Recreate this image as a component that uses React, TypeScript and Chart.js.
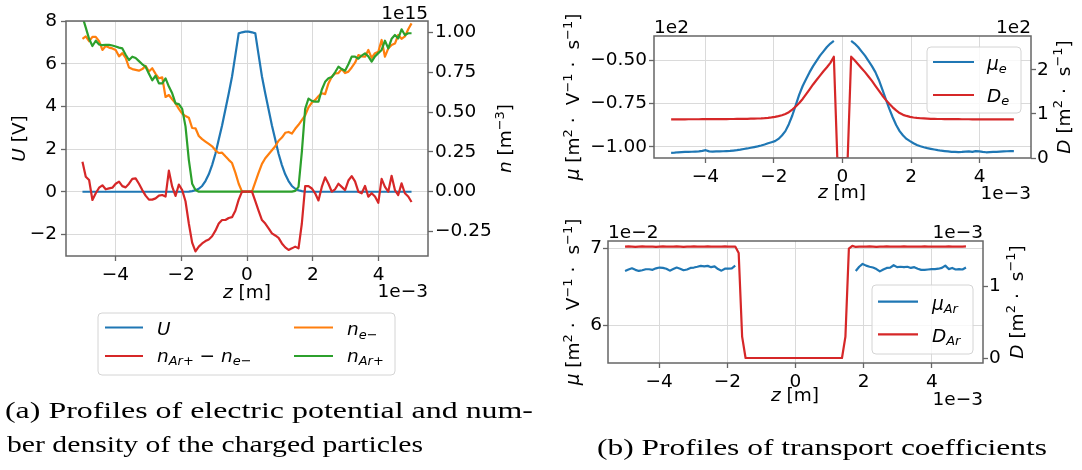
import React, { useEffect, useRef } from 'react';
import { Chart, registerables } from 'chart.js';
Chart.register(...registerables);

const FONT = 'DejaVu Sans';
const TS = 18.5;
const BLUE = '#1f77b4';
const ORANGE = '#ff7f0e';
const GREEN = '#2ca02c';
const RED = '#d62728';
const GRID = '#dadada';
const SPINE = '#666666';

// simulation mesh positions, in units of 1e-3 m
const Z_MM = Array.from({ length: 100 }, (_, i) => -5 + (i * 10) / 99);

// (a) electric potential U [V]
const U_V = [
  0, 0, 0, 0, 0, 0, 0, 0, 0, 0,
  0, 0, 0, 0, 0, 0, 0, 0, 0, 0,
  0, 0, 0, 0, 0, 0, 0, 0, 0, 0,
  0, 0, 0.01, 0.03, 0.07, 0.14, 0.27, 0.5, 0.82, 1.25,
  1.78, 2.45, 3.1, 3.85, 4.6, 5.4, 6.4, 7.42, 7.47, 7.5,
  7.5, 7.47, 7.42, 6.4, 5.4, 4.6, 3.85, 3.1, 2.45, 1.78,
  1.25, 0.82, 0.5, 0.27, 0.14, 0.07, 0.03, 0.01, 0, 0,
  0, 0, 0, 0, 0, 0, 0, 0, 0, 0,
  0, 0, 0, 0, 0, 0, 0, 0, 0, 0,
  0, 0, 0, 0, 0, 0, 0, 0, 0, 0,
];
// number densities, units of 1e15 m^-3
const N_E = [
  0.96, 0.975, 0.945, 0.972, 0.972, 0.945, 0.89, 0.915, 0.905, 0.9,
  0.89, 0.85, 0.87, 0.84, 0.78, 0.77, 0.765, 0.76, 0.77, 0.79,
  0.755, 0.775, 0.74, 0.712, 0.718, 0.595, 0.607, 0.58, 0.555, 0.52,
  0.49, 0.475, 0.465, 0.4, 0.398, 0.35, 0.33, 0.315, 0.3, 0.285,
  0.26, 0.243, 0.245, 0.222, 0.2, 0.18, 0.12, 0.05, 0, 0,
  0, 0, 0.06, 0.12, 0.175, 0.21, 0.235, 0.26, 0.285, 0.32,
  0.34, 0.37, 0.375, 0.365, 0.395, 0.42, 0.45, 0.48, 0.53, 0.56,
  0.576, 0.6, 0.618, 0.613, 0.68, 0.722, 0.743, 0.745, 0.77, 0.745,
  0.754, 0.78, 0.81, 0.858, 0.85, 0.848, 0.89, 0.84, 0.87, 0.879,
  0.953, 0.848, 0.9, 0.921, 0.93, 0.984, 0.96, 0.975, 1.02, 1.057,
];
const N_AR = [
  1.1, 1.03, 0.96, 0.915, 0.948, 0.925, 0.92, 0.922, 0.922, 0.918,
  0.912, 0.905, 0.9, 0.86, 0.827, 0.848, 0.84, 0.82, 0.8, 0.785,
  0.74, 0.7, 0.728, 0.68, 0.68, 0.712, 0.66, 0.618, 0.555, 0.55,
  0.52, 0.41, 0.2, 0.05, 0.01, 0, 0, 0, 0, 0,
  0, 0, 0, 0, 0, 0, 0, 0, 0, 0,
  0, 0, 0, 0, 0, 0, 0, 0, 0, 0,
  0, 0, 0, 0, 0.005, 0.03, 0.25, 0.52, 0.585, 0.57,
  0.565, 0.565, 0.64, 0.69, 0.712, 0.72, 0.75, 0.785, 0.77, 0.76,
  0.8, 0.848, 0.848, 0.835, 0.855, 0.869, 0.85, 0.817, 0.85, 0.87,
  0.89, 0.948, 0.9, 0.96, 0.984, 0.963, 1.02, 0.984, 0.995, 0.995,
];
const N_DIFF = [
  0.188, 0.094, 0.073, -0.052, -0.01, 0.025, 0.04, 0.015, 0.021, 0.025,
  0.05, 0.063, 0.035, 0.027, 0.05, 0.08, 0.084, 0.05, 0.01, -0.025,
  -0.05, -0.05, -0.042, -0.025, -0.021, -0.031, 0.132, 0.031, -0.027, 0.045,
  0.01, -0.06, -0.2, -0.32, -0.375, -0.345, -0.325, -0.31, -0.3, -0.28,
  -0.245, -0.2, -0.178, -0.178, -0.165, -0.16, -0.12, -0.05, 0, 0,
  0, 0, -0.06, -0.12, -0.178, -0.2, -0.23, -0.262, -0.275, -0.29,
  -0.325, -0.35, -0.366, -0.356, -0.345, -0.356, -0.2, 0.035, 0.035, 0.02,
  -0.01, -0.055, 0.03, 0.09, 0.05, 0, 0.015, 0.05, 0.03, 0.01,
  0.07, 0.098, 0.065, 0, -0.01, 0.036, -0.031, -0.01, -0.03, -0.07,
  0.08, 0.03, 0, 0.1, 0.01, -0.021, 0.052, -0.01, -0.03, -0.065,
];

// (b) electron mobility (x1e2) and diffusion (x1e2)
const MU_E = [
  -1.035, -1.034, -1.032, -1.031, -1.03, -1.03, -1.029, -1.028, -1.027, -1.024,
  -1.02, -1.027, -1.028, -1.027, -1.027, -1.026, -1.025, -1.024, -1.022, -1.02,
  -1.017, -1.013, -1.01, -1.006, -1.002, -0.998, -0.993, -0.987, -0.98, -0.974,
  -0.968, -0.955, -0.935, -0.91, -0.87, -0.82, -0.76, -0.7, -0.65, -0.61,
  -0.57, -0.535, -0.505, -0.475, -0.45, -0.425, -0.405, -0.39, null, null,
  null, null, -0.39, -0.405, -0.425, -0.45, -0.475, -0.505, -0.535, -0.57,
  -0.615, -0.67, -0.725, -0.78, -0.83, -0.875, -0.91, -0.935, -0.955, -0.968,
  -0.98, -0.99, -0.997, -1.003, -1.008, -1.012, -1.016, -1.02, -1.023, -1.025,
  -1.027, -1.03, -1.03, -1.031, -1.03, -1.028, -1.027, -1.03, -1.025, -1.027,
  -1.03, -1.032, -1.031, -1.03, -1.03, -1.028, -1.027, -1.026, -1.025, -1.025,
];
const D_E = [
  0.878, 0.878, 0.879, 0.879, 0.879, 0.88, 0.88, 0.88, 0.88, 0.881,
  0.881, 0.881, 0.882, 0.882, 0.883, 0.883, 0.884, 0.885, 0.886, 0.887,
  0.888, 0.889, 0.89, 0.892, 0.894, 0.897, 0.9, 0.905, 0.912, 0.922,
  0.935, 0.95, 0.97, 1.0, 1.04, 1.1, 1.17, 1.25, 1.34, 1.45,
  1.56, 1.67, 1.77, 1.87, 1.97, 2.06, 2.16, 2.3, 0, 0,
  0, 0, 2.3, 2.22, 2.13, 2.04, 1.95, 1.85, 1.75, 1.64,
  1.53, 1.42, 1.32, 1.23, 1.15, 1.08, 1.02, 0.98, 0.955, 0.935,
  0.92, 0.91, 0.903, 0.898, 0.894, 0.89, 0.888, 0.886, 0.885, 0.884,
  0.883, 0.882, 0.882, 0.881, 0.88, 0.88, 0.88, 0.879, 0.879, 0.879,
  0.878, 0.878, 0.878, 0.877, 0.877, 0.877, 0.877, 0.876, 0.876, 0.876,
];
// argon ion mobility (x1e-2) and diffusion (x1e-3)
const MU_AR = [
  6.706, 6.725, 6.741, 6.72, 6.706, 6.715, 6.728, 6.728, 6.72, 6.74,
  6.75, 6.745, 6.735, 6.71, 6.73, 6.75, 6.735, 6.715, 6.725, 6.745,
  6.75, 6.76, 6.772, 6.765, 6.772, 6.755, 6.766, 6.73, 6.71, 6.735,
  6.735, 6.74, 6.775, null, null, null, null, null, null, null,
  null, null, null, null, null, null, null, null, null, null,
  null, null, null, null, null, null, null, null, null, null,
  null, null, null, null, null, null, null, 6.706, 6.76, 6.797,
  6.775, 6.76, 6.75, 6.73, 6.7, 6.725, 6.745, 6.75, 6.78, 6.755,
  6.76, 6.755, 6.76, 6.745, 6.755, 6.735, 6.72, 6.72, 6.725, 6.73,
  6.73, 6.735, 6.745, 6.775, 6.73, 6.745, 6.725, 6.73, 6.725, 6.75,
];
const D_AR = [
  1.558, 1.562, 1.56, 1.556, 1.56, 1.562, 1.558, 1.56, 1.56, 1.557,
  1.56, 1.563, 1.56, 1.558, 1.56, 1.562, 1.56, 1.556, 1.56, 1.56,
  1.562, 1.558, 1.56, 1.56, 1.563, 1.56, 1.56, 1.558, 1.56, 1.562,
  1.56, 1.56, 1.56, 1.47, 0.3, 0, 0, 0, 0, 0,
  0, 0, 0, 0, 0, 0, 0, 0, 0, 0,
  0, 0, 0, 0, 0, 0, 0, 0, 0, 0,
  0, 0, 0, 0, 0.3, 1.53, 1.57, 1.555, 1.56, 1.558,
  1.56, 1.562, 1.56, 1.557, 1.56, 1.56, 1.562, 1.56, 1.558, 1.56,
  1.56, 1.562, 1.56, 1.56, 1.558, 1.56, 1.56, 1.562, 1.56, 1.56,
  1.558, 1.56, 1.56, 1.56, 1.562, 1.56, 1.558, 1.56, 1.56, 1.562,
];

const X_TICKS = [-4, -2, 0, 2, 4];
const U_TICKS = [-2, 0, 2, 4, 6, 8];
const N_TICKS = [-0.25, 0, 0.25, 0.5, 0.75, 1.0];
const MUE_TICKS = [-1.0, -0.75, -0.5];
const DE_TICKS = [0, 1, 2];
const MUAR_TICKS = [6, 7];
const DAR_TICKS = [0, 1];

const minus = (s: string) => s.replace('-', '\u2212');
const fmtInt = (v: number) => minus(String(Math.round(v)));
const fmt2 = (v: number) => minus(v.toFixed(2));

type Seg = { t: string; it?: boolean; sub?: boolean; sup?: boolean };
const segFont = (s: Seg, size: number) =>
  `${s.it ? 'italic ' : ''}${s.sub || s.sup ? size * 0.7 : size}px "${FONT}"`;

function drawRich(ctx: CanvasRenderingContext2D, segs: Seg[], x: number, y: number,
  align: 'left' | 'center' | 'right', rot = 0, size = TS) {
  ctx.save();
  ctx.translate(x, y);
  ctx.rotate(rot);
  let w = 0;
  for (const s of segs) { ctx.font = segFont(s, size); w += ctx.measureText(s.t).width; }
  let cx = align === 'left' ? 0 : align === 'center' ? -w / 2 : -w;
  ctx.textAlign = 'left';
  ctx.textBaseline = 'alphabetic';
  ctx.fillStyle = '#000';
  for (const s of segs) {
    ctx.font = segFont(s, size);
    const dy = s.sub ? size * 0.2 : s.sup ? -size * 0.4 : 0;
    ctx.fillText(s.t, cx, dy);
    cx += ctx.measureText(s.t).width;
  }
  ctx.restore();
}

type TextItem = { segs: Seg[]; x: number; y: number; align: 'left' | 'center' | 'right'; rot?: number };
type LegItem = { color: string; segs: Seg[]; x1: number; x2: number; y: number; tx: number; ty: number };
type Extras = { texts: TextItem[]; box: [number, number, number, number]; items: LegItem[] };

function extrasPlugin(ex: Extras) {
  return {
    id: 'extras',
    afterDatasetsDraw(chart: any) {
      const { ctx, chartArea: a } = chart;
      ctx.save();
      ctx.strokeStyle = SPINE;
      ctx.lineWidth = 1.5;
      ctx.strokeRect(a.left, a.top, a.right - a.left, a.bottom - a.top);
      for (const t of ex.texts) drawRich(ctx, t.segs, t.x, t.y, t.align, t.rot || 0);
      const [bx, by, bw, bh] = ex.box;
      ctx.beginPath();
      const r = 4;
      ctx.moveTo(bx + r, by);
      ctx.arcTo(bx + bw, by, bx + bw, by + bh, r);
      ctx.arcTo(bx + bw, by + bh, bx, by + bh, r);
      ctx.arcTo(bx, by + bh, bx, by, r);
      ctx.arcTo(bx, by, bx + bw, by, r);
      ctx.closePath();
      ctx.fillStyle = 'rgba(255,255,255,0.8)';
      ctx.fill();
      ctx.strokeStyle = '#d4d4d4';
      ctx.lineWidth = 1;
      ctx.stroke();
      for (const it of ex.items) {
        ctx.beginPath();
        ctx.strokeStyle = it.color;
        ctx.lineWidth = 2.2;
        ctx.moveTo(it.x1, it.y);
        ctx.lineTo(it.x2, it.y);
        ctx.stroke();
        drawRich(ctx, it.segs, it.tx, it.ty, 'left');
      }
      ctx.restore();
    },
  };
}

function axis(o: { position: string; min: number; max: number; ticks: number[]; fmt: (v: number) => string; size: number; grid: boolean; pad: number }) {
  const horiz = o.position === 'bottom';
  return {
    type: 'linear',
    position: o.position,
    min: o.min,
    max: o.max,
    afterBuildTicks: (sc: any) => { sc.ticks = o.ticks.map((v) => ({ value: v })); },
    afterFit: (sc: any) => { if (horiz) sc.height = o.size; else sc.width = o.size; },
    grid: { display: true, drawOnChartArea: o.grid, color: GRID, lineWidth: 1, drawTicks: true, tickLength: 5, tickColor: SPINE, tickWidth: 1.3 },
    border: { display: false },
    ticks: {
      autoSkip: false, maxRotation: 0, minRotation: 0, padding: o.pad, color: '#000',
      font: { family: FONT, size: TS },
      callback: (v: any) => o.fmt(Number(v)),
    },
  };
}

const series = (arr: (number | null)[]) => Z_MM.map((z, i) => ({ x: z, y: arr[i] }));
const ds = (label: string, arr: (number | null)[], color: string, yAxisID: string, order: number) => ({
  label, data: series(arr), borderColor: color, backgroundColor: color, yAxisID, order,
  borderWidth: 2.2, pointRadius: 0, fill: false, spanGaps: false, tension: 0, borderJoinStyle: 'round',
});

function build(canvas: HTMLCanvasElement, datasets: any[], scales: any, top: number, ex: Extras) {
  return new Chart(canvas, {
    type: 'line',
    data: { datasets },
    options: {
      responsive: false, animation: false, devicePixelRatio: 1, events: [],
      layout: { padding: { top, left: 0, right: 0, bottom: 0 } },
      plugins: { legend: { display: false }, tooltip: { enabled: false } },
      scales,
    },
    plugins: [extrasPlugin(ex)],
  } as any);
}

const DOT = '\u2004\u00b7\u2004 ';
const Z_LABEL: Seg[] = [{ t: 'z', it: true }, { t: ' [m]' }];
const MU_LABEL: Seg[] = [{ t: '\u03bc', it: true }, { t: ' [m' }, { t: '2', sup: true }, { t: DOT + 'V' }, { t: '\u22121', sup: true }, { t: DOT + 's' }, { t: '\u22121', sup: true }, { t: ']' }];
const D_LABEL: Seg[] = [{ t: 'D', it: true }, { t: ' [m' }, { t: '2', sup: true }, { t: DOT + 's' }, { t: '\u22121', sup: true }, { t: ']' }];
const UP = -Math.PI / 2;

export default function App() {
  const aRef = useRef<HTMLCanvasElement>(null);
  const bRef = useRef<HTMLCanvasElement>(null);
  const cRef = useRef<HTMLCanvasElement>(null);

  useEffect(() => {
    const chartA = build(aRef.current!, [
      ds('n_Ar+ - n_e-', N_DIFF, RED, 'y2', 0),
      ds('n_Ar+', N_AR, GREEN, 'y2', 1),
      ds('n_e-', N_E, ORANGE, 'y2', 2),
      ds('U', U_V, BLUE, 'y', 3),
    ], {
      x: axis({ position: 'bottom', min: -5.5, max: 5.5, ticks: X_TICKS, fmt: fmtInt, size: 129, grid: true, pad: 3 }),
      y: axis({ position: 'left', min: -3.01, max: 8, ticks: U_TICKS, fmt: fmtInt, size: 66, grid: true, pad: 4 }),
      y2: axis({ position: 'right', min: -0.404, max: 1.072, ticks: N_TICKS, fmt: fmt2, size: 120, grid: false, pad: 2 }),
    }, 21, {
      texts: [
        { segs: [{ t: 'U', it: true }, { t: ' [V]' }], x: 24.5, y: 138.5, align: 'center', rot: UP },
        { segs: [{ t: 'n', it: true }, { t: ' [m' }, { t: '\u22123', sup: true }, { t: ']' }], x: 511, y: 138.5, align: 'center', rot: UP },
        { segs: Z_LABEL, x: 247, y: 297.5, align: 'center' },
        { segs: [{ t: '1e\u22123' }], x: 428, y: 296.7, align: 'right' },
        { segs: [{ t: '1e15' }], x: 428, y: 18.5, align: 'right' },
      ],
      box: [98, 313, 297, 62],
      items: [
        { color: BLUE, segs: [{ t: 'U', it: true }], x1: 105, x2: 143, y: 327.5, tx: 157, ty: 335 },
        { color: RED, segs: [{ t: 'n', it: true }, { t: 'Ar', it: true, sub: true }, { t: '+', sub: true }, { t: ' \u2212 ' }, { t: 'n', it: true }, { t: 'e', it: true, sub: true }, { t: '\u2212', sub: true }], x1: 105, x2: 143, y: 356, tx: 157, ty: 361.5 },
        { color: ORANGE, segs: [{ t: 'n', it: true }, { t: 'e', it: true, sub: true }, { t: '\u2212', sub: true }], x1: 294, x2: 333, y: 327.5, tx: 347, ty: 335 },
        { color: GREEN, segs: [{ t: 'n', it: true }, { t: 'Ar', it: true, sub: true }, { t: '+', sub: true }], x1: 294, x2: 333, y: 356, tx: 347, ty: 361.5 },
      ],
    });

    const chartB = build(bRef.current!, [
      ds('D_e', D_E, RED, 'y2', 0),
      ds('mu_e', MU_E, BLUE, 'y', 1),
    ], {
      x: axis({ position: 'bottom', min: -5.5, max: 5.5, ticks: X_TICKS, fmt: fmtInt, size: 52, grid: true, pad: 3 }),
      y: axis({ position: 'left', min: -1.065, max: -0.3615, ticks: MUE_TICKS, fmt: fmt2, size: 109, grid: true, pad: 2 }),
      y2: axis({ position: 'right', min: 0, max: 2.77, ticks: DE_TICKS, fmt: fmtInt, size: 51, grid: false, pad: 1 }),
    }, 36, {
      texts: [
        { segs: MU_LABEL, x: 579 - 545, y: 97, align: 'center', rot: UP },
        { segs: D_LABEL, x: 1069.5 - 545, y: 97, align: 'center', rot: UP },
        { segs: Z_LABEL, x: 297, y: 198, align: 'center' },
        { segs: [{ t: '1e\u22123' }], x: 486, y: 198.5, align: 'right' },
        { segs: [{ t: '1e2' }], x: 109, y: 33, align: 'left' },
        { segs: [{ t: '1e2' }], x: 486, y: 33, align: 'right' },
      ],
      box: [382, 47, 94, 66],
      items: [
        { color: BLUE, segs: [{ t: '\u03bc', it: true }, { t: 'e', it: true, sub: true }], x1: 388, x2: 429, y: 62, tx: 442, ty: 69.5 },
        { color: RED, segs: [{ t: 'D', it: true }, { t: 'e', it: true, sub: true }], x1: 388, x2: 429, y: 95, tx: 442, ty: 101.7 },
      ],
    });

    const chartC = build(cRef.current!, [
      ds('D_Ar', D_AR, RED, 'y2', 0),
      ds('mu_Ar', MU_AR, BLUE, 'y', 1),
    ], {
      x: axis({ position: 'bottom', min: -5.5, max: 5.5, ticks: X_TICKS, fmt: fmtInt, size: 62, grid: true, pad: 3 }),
      y: axis({ position: 'left', min: 5.513, max: 7.094, ticks: MUAR_TICKS, fmt: fmtInt, size: 63, grid: true, pad: 1 }),
      y2: axis({ position: 'right', min: -0.07, max: 1.638, ticks: DAR_TICKS, fmt: fmtInt, size: 99, grid: false, pad: 1 }),
    }, 31, {
      texts: [
        { segs: MU_LABEL, x: 34, y: 92, align: 'center', rot: UP },
        { segs: D_LABEL, x: 477.5, y: 92, align: 'center', rot: UP },
        { segs: Z_LABEL, x: 250, y: 191, align: 'center' },
        { segs: [{ t: '1e\u22123' }], x: 438, y: 195, align: 'right' },
        { segs: [{ t: '1e\u22122' }], x: 63, y: 28, align: 'left' },
        { segs: [{ t: '1e\u22123' }], x: 438, y: 28, align: 'right' },
      ],
      box: [327, 75, 101, 69],
      items: [
        { color: BLUE, segs: [{ t: '\u03bc', it: true }, { t: 'Ar', it: true, sub: true }], x1: 333, x2: 373, y: 91.7, tx: 387, ty: 99.5 },
        { color: RED, segs: [{ t: 'D', it: true }, { t: 'Ar', it: true, sub: true }], x1: 333, x2: 373, y: 124.3, tx: 387, ty: 131.7 },
      ],
    });

    return () => { chartA.destroy(); chartB.destroy(); chartC.destroy(); };
  }, []);

  const cap = { fontFamily: '"Liberation Serif", serif', fontSize: 24, fill: '#000' } as const;
  return (
    <div style={{ position: 'absolute', left: 0, top: 0, width: 1082, height: 470, background: '#fff', overflow: 'hidden' }}>
      <canvas ref={aRef} width={548} height={385} style={{ position: 'absolute', left: 0, top: 0 }} />
      <canvas ref={bRef} width={537} height={210} style={{ position: 'absolute', left: 545, top: 0 }} />
      <canvas ref={cRef} width={537} height={215} style={{ position: 'absolute', left: 545, top: 210 }} />
      <svg width={1082} height={470} style={{ position: 'absolute', left: 0, top: 0, pointerEvents: 'none' }}>
        <text x={5} y={418} textLength={528} lengthAdjust="spacingAndGlyphs" {...cap}>(a) Profiles of electric potential and num-</text>
        <text x={7} y={452} textLength={416} lengthAdjust="spacingAndGlyphs" {...cap}>ber density of the charged particles</text>
        <text x={597} y={455} textLength={450} lengthAdjust="spacingAndGlyphs" {...cap}>(b) Profiles of transport coefficients</text>
      </svg>
    </div>
  );
}
